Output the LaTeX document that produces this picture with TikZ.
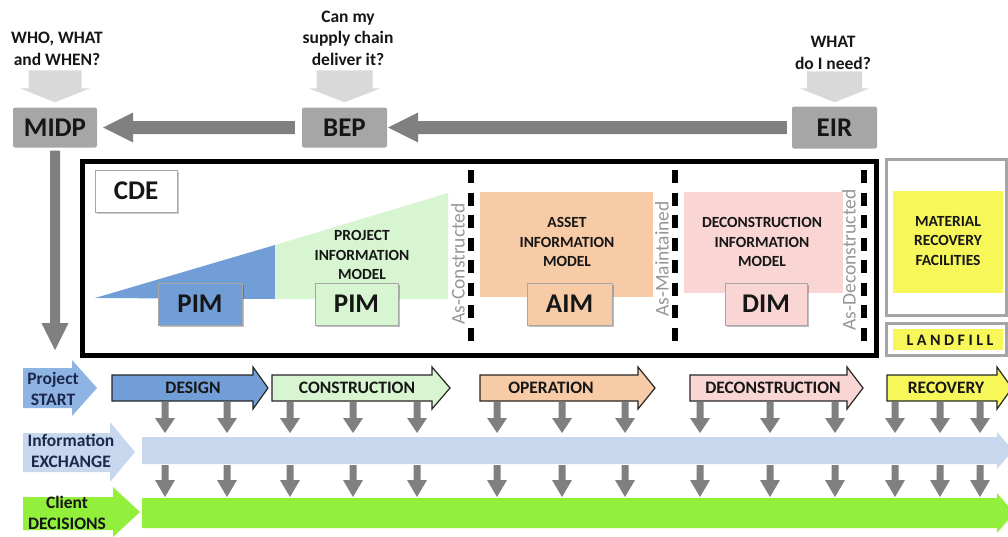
\documentclass[tikz,border=0pt]{standalone}
\usepackage{fontspec}
\setmainfont{Carlito}
\newfontfamily\spacedfont[LetterSpace=22]{Carlito}
\usetikzlibrary{calc,shadows}

\definecolor{boxgray}{RGB}{166,166,166}
\definecolor{arrowgray}{RGB}{128,128,128}
\definecolor{palegray}{RGB}{217,217,217}
\definecolor{framegray}{RGB}{165,165,165}
\definecolor{pimblue}{RGB}{114,158,216}
\definecolor{startblue}{RGB}{141,180,226}
\definecolor{bandblue}{RGB}{198,215,238}
\definecolor{pimgreen}{RGB}{214,245,208}
\definecolor{aimorange}{RGB}{247,203,166}
\definecolor{dimpink}{RGB}{249,213,211}
\definecolor{recyellow}{RGB}{247,247,90}
\definecolor{clientgreen}{RGB}{146,240,60}
\definecolor{asgray}{RGB}{150,150,150}
\definecolor{inkdark}{RGB}{22,22,22}
\definecolor{inknavy}{RGB}{28,40,75}

% block arrow from #2 to tip #3: shaft half-width #4, head half-width #5, head length #6
\newcommand\fatarrow[6]{%
  \coordinate (fa-h) at ($(#3)!#6!(#2)$);
  \fill[#1] ($(#2)!#4!90:(#3)$) -- ($(fa-h)!#4!90:(#3)$) -- ($(fa-h)!#5!90:(#3)$) -- (#3)
    -- ($(fa-h)!#5!-90:(#3)$) -- ($(fa-h)!#4!-90:(#3)$) -- ($(#2)!#4!-90:(#3)$) -- cycle;}

% lifecycle phase arrow: name, body start, body end, tip, fill, text, text x
\newcommand\phasearrow[7]{%
  \draw[phaseline, fill=#5] (#2,375) -- (#3,375) -- (#3,367) -- (#4,388) -- (#3,409)
    -- (#3,401) -- (#2,401) -- cycle;
  \node[phasetext] (#1) at (#7,388) {#6};}

\begin{document}
\begin{tikzpicture}[x=1pt,y=-1pt,
  qtext/.style={font=\bfseries\fontsize{17.5}{21.5}\selectfont, text=inkdark, align=center, inner sep=0pt},
  docbox/.style={fill=boxgray, rounded corners=2pt, inner sep=0pt, text=inkdark,
    font=\bfseries\fontsize{27}{30}\selectfont},
  modelbox/.style={draw=black!35, line width=0.6pt, inner sep=0pt, minimum height=42pt, text=inkdark,
    font=\bfseries\fontsize{27}{30}\selectfont,
    drop shadow={shadow xshift=2pt, shadow yshift=-2pt, fill=black, opacity=0.25}},
  midtext/.style={font=\bfseries\fontsize{15.5}{19.5}\selectfont, text=inkdark, align=center, inner sep=0pt},
  astext/.style={font=\fontsize{19.5}{20}\selectfont, text=asgray, rotate=90, inner sep=0pt},
  asline/.style={line width=5.5pt, dash pattern=on 13pt off 9.5pt},
  phaseline/.style={draw=black!85, line width=1.2pt, line join=miter},
  phasetext/.style={font=\bfseries\fontsize{17.5}{21}\selectfont, text=inkdark, inner sep=0pt},
  labtext/.style={font=\bfseries\fontsize{17.5}{21.5}\selectfont, align=center, inner sep=0pt}]
\useasboundingbox (0,0) rectangle (1008,536);
\clip (0,0) rectangle (1008,536);

% ---------- planning documents ----------
\node[qtext] (q-midp) at (57,49) {WHO, WHAT\\and WHEN?};
\node[qtext] (q-bep) at (348,38) {Can my\\supply chain\\deliver it?};
\node[qtext] (q-eir) at (833,53) {WHAT\\do I need?};

\node[docbox, minimum width=84pt, minimum height=40pt] (midp) at (55,127.5) {MIDP};
\node[docbox, minimum width=85pt, minimum height=40pt] (bep) at (344.5,127.5) {BEP};
\node[docbox, minimum width=85pt, minimum height=42pt] (eir) at (834.5,127.5) {EIR};

\coordinate (la1s) at ([yshift=37pt]midp.north);
\coordinate (la1t) at ([yshift=5pt]midp.north);
\coordinate (la2s) at ([yshift=37pt]bep.north);
\coordinate (la2t) at ([yshift=5pt]bep.north);
\coordinate (la3s) at ([yshift=35pt]eir.north);
\coordinate (la3t) at ([yshift=4pt]eir.north);
\fatarrow{palegray}{la1s}{la1t}{26.5pt}{35pt}{14pt}
\fatarrow{palegray}{la2s}{la2t}{28pt}{36pt}{14pt}
\fatarrow{palegray}{la3s}{la3t}{27.5pt}{35pt}{14pt}

\coordinate (ga1s) at ([xshift=-7pt]bep.west);
\coordinate (ga1t) at ([xshift=6pt]midp.east);
\coordinate (ga2s) at ([xshift=-5pt]eir.west);
\coordinate (ga2t) at ([xshift=1pt]bep.east);
\fatarrow{arrowgray}{ga1s}{ga1t}{6.5pt}{15pt}{30pt}
\fatarrow{arrowgray}{ga2s}{ga2t}{6.5pt}{15pt}{30pt}

\coordinate (md-s) at ([yshift=-3pt]midp.south);
\coordinate (md-t) at (55,350);
\fatarrow{arrowgray}{md-s}{md-t}{5pt}{13.5pt}{27pt}

% ---------- common data environment ----------
\draw[line width=5pt] (82,161) rectangle (876,355);
\node[draw=black!35, fill=white, line width=0.8pt, minimum width=82pt, minimum height=42pt, inner sep=0pt,
  font=\bfseries\fontsize{27}{30}\selectfont, text=inkdark,
  drop shadow={shadow xshift=1.5pt, shadow yshift=-1.5pt, fill=black, opacity=0.2}] (cde) at (136,191) {CDE};

% growth of project information
\fill[pimblue] (95,298) -- (275,245) -- (275,299) -- cycle;
\fill[pimgreen] (275,245) -- (448,193) -- (448,299) -- (275,299) -- cycle;
\node[midtext] (pim-label) at (362,255) {PROJECT\\INFORMATION\\MODEL};
\node[modelbox, fill=pimblue, minimum width=84pt] (pim-design) at (200,304) {PIM};
\node[modelbox, fill=pimgreen, minimum width=83pt] (pim-build) at (356.5,304) {PIM};

% asset information
\fill[aimorange] (480,192) rectangle (653,297);
\node[midtext] (aim-label) at (567,242) {ASSET\\INFORMATION\\MODEL};
\node[modelbox, fill=aimorange, minimum width=85pt] (aim) at (569.5,304) {AIM};

% deconstruction information
\fill[dimpink] (684,192) rectangle (843,293);
\node[midtext] (dim-label) at (762,242) {DECONSTRUCTION\\INFORMATION\\MODEL};
\node[modelbox, fill=dimpink, minimum width=82pt] (dim) at (766,304) {DIM};

% handover gates
\draw[asline] (471,170) -- (471,347);
\draw[asline] (675,170) -- (675,347);
\draw[asline] (864,170) -- (864,347);
\node[astext] (as-con) at (458,264) {As-Constructed};
\node[astext] (as-main) at (662,259) {As-Maintained};
\node[astext] (as-decon) at (849,260) {As-Deconstructed};

% end-of-life destinations
\draw[draw=framegray, line width=3pt] (886,159) rectangle (1006,315);
\fill[recyellow] (893,191) rectangle (1003,293);
\node[midtext] (mrf) at (948,241) {MATERIAL\\RECOVERY\\FACILITIES};
\draw[draw=framegray, line width=3pt] (886,323) rectangle (1006,355);
\fill[recyellow] (893,329) rectangle (1003,350);
\node[font=\spacedfont\bfseries\fontsize{16}{18}\selectfont, text=inkdark, inner sep=0pt] (landfill) at (950,340) {LANDFILL};

% ---------- lifecycle rows ----------
\fill[startblue] (23,368) -- (72,368) -- (72,360) -- (97,388) -- (72,416) -- (72,408) -- (23,408) -- cycle;
\node[labtext, text=inknavy] (start) at (53,389) {Project\\START};
\fill[bandblue] (23,433) -- (110,433) -- (110,422) -- (135,452) -- (110,482) -- (110,472) -- (23,472) -- cycle;
\node[labtext, text=inknavy] (info) at (71,451) {Information\\EXCHANGE};
\fill[clientgreen] (23,497) -- (113,497) -- (113,487) -- (140,512) -- (113,537) -- (113,530) -- (23,530) -- cycle;
\node[labtext, text=inkdark] (client) at (67,513) {Client\\DECISIONS};

\phasearrow{design}{112}{253}{268}{pimblue}{DESIGN}{193}
\phasearrow{construction}{272}{432}{450}{pimgreen}{CONSTRUCTION}{357}
\phasearrow{operation}{480}{638}{655}{aimorange}{OPERATION}{551}
\phasearrow{deconstruction}{690}{847}{863}{dimpink}{DECONSTRUCTION}{773}
\phasearrow{recovery}{887}{997}{1012}{recyellow}{RECOVERY}{946}

\fill[bandblue] (142,437) -- (997,437) -- (997,432) -- (1013,450.5) -- (997,469) -- (997,464) -- (142,464) -- cycle;
\fill[clientgreen] (142,498) -- (997,498) -- (997,493) -- (1014,513) -- (997,533) -- (997,528) -- (142,528) -- cycle;

% information drops between the rows
\foreach \x [count=\i] in {165,227,290,353,417,497,562,625,700,770,835,895,940,980}{
  \coordinate (up\i) at (\x,402);
  \coordinate (uq\i) at (\x,433);
  \coordinate (lp\i) at (\x,465);
  \coordinate (lq\i) at (\x,497);
  \fatarrow{arrowgray}{up\i}{uq\i}{3.5pt}{10pt}{15pt}
  \fatarrow{arrowgray}{lp\i}{lq\i}{3.5pt}{10pt}{17pt}
}
\end{tikzpicture}
\end{document}
